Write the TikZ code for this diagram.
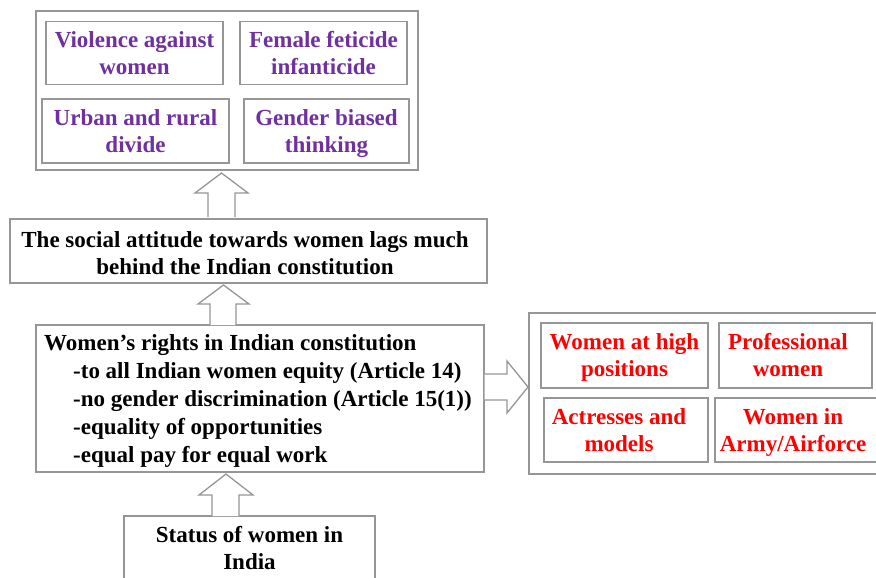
\documentclass[tikz,border=0pt]{standalone}
\usepackage{fontspec}
\setmainfont{Liberation Serif}
\definecolor{linegray}{RGB}{150,150,150}
\definecolor{violet}{RGB}{112,48,160}
\definecolor{brightred}{RGB}{255,0,0}
\tikzset{
  box/.style={draw=linegray, line width=1.3pt, fill=white, inner sep=0pt, align=center,
    font=\fontsize{23}{27}\selectfont\bfseries},
  purp/.style={box, text=violet},
  redb/.style={box, text=brightred},
  blk/.style={box, text=black},
  blockarrow/.style={draw=linegray, line width=1.3pt, fill=white, line join=miter},
  txt/.style={inner sep=0pt, align=center, font=\fontsize{23}{27}\selectfont\bfseries},
}
\begin{document}
\begin{tikzpicture}[x=1pt,y=-1pt]
\useasboundingbox (0,0) rectangle (876,578);
\clip (0,0) rectangle (876,578);
% top group
\node[box, minimum width=382pt, minimum height=159pt] (top) at (227,90.5) {};
\node[purp, minimum width=177pt, minimum height=63pt] (viol) at (134.5,53) {Violence against\\women};
\node[purp, minimum width=167pt, minimum height=63pt] (fem) at (323.5,53) {Female feticide\\infanticide};
\node[purp, minimum width=187pt, minimum height=64pt] (urban) at (135.5,131) {Urban and rural\\divide};
\node[purp, minimum width=165pt, minimum height=64pt] (gender) at (326.5,131) {Gender biased\\\smash{thinking}};
% social
\node[blk, minimum width=477pt, minimum height=64pt] (social) at (248.5,251) {};
\node[txt] (socialt) at (245,253) {The social attitude towards women lags much\\behind the Indian constitution};
% rights
\node[blk, minimum width=448pt, minimum height=147pt] (rights) at (260,398.5) {};
\node[txt, align=left, anchor=west, font=\fontsize{23}{28}\selectfont\bfseries] (rightst) at (44,400.5) {Women’s rights in Indian constitution\\
\hspace*{29pt}-to all Indian women equity (Article 14)\\
\hspace*{29pt}-no gender discrimination (Article 15(1))\\
\hspace*{29pt}-equality of opportunities\\
\hspace*{29pt}-equal pay for equal work};
% status
\node[blk, minimum width=251pt, minimum height=66pt] (status) at (249.5,549) {};
\node[txt] (statust) at (249.5,548) {Status of women in\\India};
% right group
\node[box, minimum width=361pt, minimum height=161pt] (rgroup) at (709.5,393.5) {};
\node[redb, minimum width=167pt, minimum height=65pt] (high) at (624.5,355.5) {Women at high\\\smash{positions}};
\node[box, minimum width=153pt, minimum height=65pt] (prof) at (795.5,355.5) {};
\node[txt, text=brightred] (proft) at (788,355.5) {Professional\\women};
\node[box, minimum width=164pt, minimum height=64pt] (actr) at (626,430) {};
\node[txt, text=brightred] (actrt) at (619,430) {Actresses and\\models};
\node[box, minimum width=175pt, minimum height=64pt] (army) at (802.5,430) {};
\node[txt, text=brightred] (armyt) at (793,430) {Women in\\\smash{Army/Airforce}};
% block arrows
\draw[blockarrow] (208,217) -- (208,193) -- (195,193) -- (221.5,173) -- (248,193) -- (235,193) -- (235,217);
\draw[blockarrow] (210,325) -- (210,304) -- (198,304) -- (223.5,285) -- (249,304) -- (236,304) -- (236,325);
\draw[blockarrow] (212,516) -- (212,495) -- (199,495) -- (226,474) -- (253,495) -- (239,495) -- (239,516);
\draw[blockarrow] (rights.east |- 0,374) -- (507,374) -- (507,361) -- (528,387) -- (507,413) -- (507,400) -- (rights.east |- 0,400);
\end{tikzpicture}
\end{document}
